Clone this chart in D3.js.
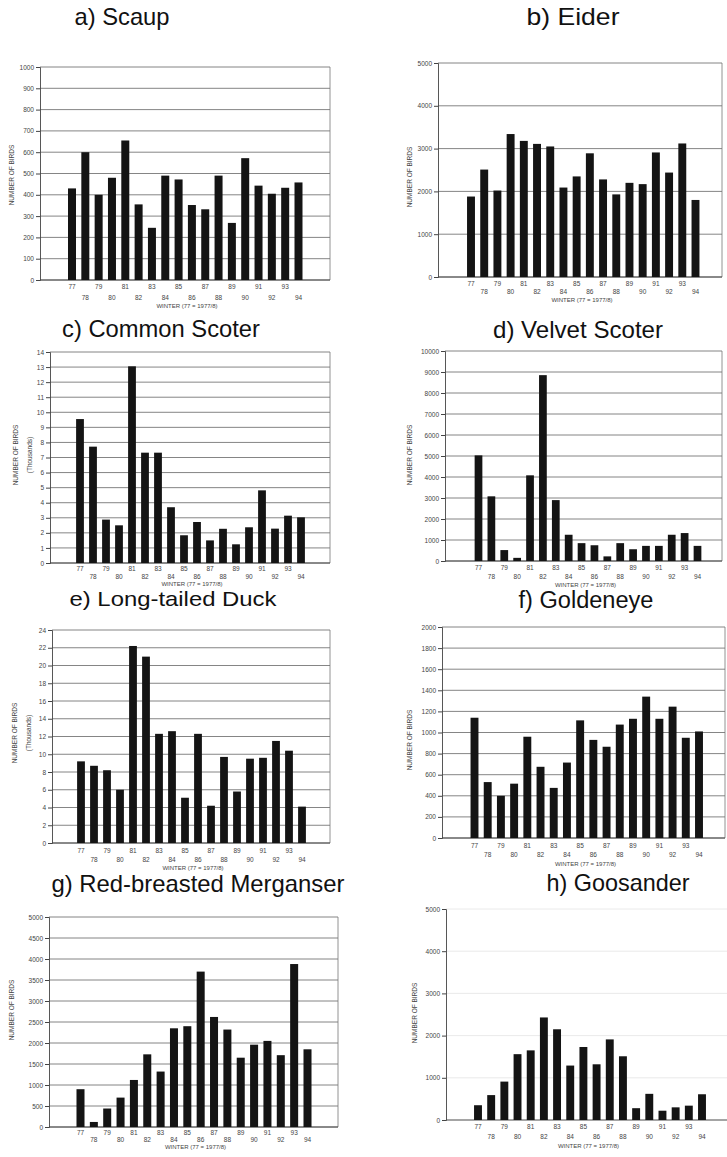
<!DOCTYPE html>
<html><head><meta charset="utf-8">
<script src="https://cdn.jsdelivr.net/npm/d3@7"></script>
<style>
body{margin:0;background:#fff;}
svg{display:block;font-family:"Liberation Sans",Arial,Helvetica,sans-serif;}
</style></head><body>
<svg id="chart" width="727" height="1157"></svg>
<script>
// ---- data ----
const years = ["77","78","79","80","81","82","83","84","85","86","87","88","89","90","91","92","93","94"];
const scaup          = [430,600,400,480,655,355,245,490,472,352,332,490,268,572,443,405,433,458];
const eider          = [1880,2510,2020,3340,3180,3110,3050,2090,2350,2890,2280,1930,2200,2170,2910,2440,3120,1800];
const commonScoter   = [9.55,7.72,2.88,2.5,13.05,7.32,7.32,3.7,1.84,2.72,1.5,2.27,1.24,2.37,4.82,2.28,3.14,3.03];
const velvetScoter   = [5030,3080,520,150,4080,8850,2900,1250,850,750,220,850,560,720,720,1250,1330,720];
const longtailedDuck = [9.2,8.7,8.2,6.0,22.2,21.0,12.3,12.6,5.1,12.3,4.2,9.7,5.8,9.5,9.6,11.5,10.4,4.1];
const goldeneye      = [1140,530,400,515,960,675,475,715,1115,930,865,1075,1130,1340,1130,1245,950,1010];
const merganser      = [900,120,440,700,1120,1730,1320,2350,2400,3700,2620,2320,1650,1960,2050,1710,3880,1850];
const goosander      = [350,590,910,1560,1650,2430,2150,1290,1730,1320,1910,1510,280,620,220,300,340,610];

const titles = ["a) Scaup","b) Eider","c) Common Scoter","d) Velvet Scoter","e) Long-tailed Duck","f) Goldeneye","g) Red-breasted Merganser","h) Goosander"];
const yMaxes = [1000,5000,14,10000,24,2000,5000,5000];
const ySteps = [100,1000,1,1000,2,200,500,1000];
const yAxisTitle = "NUMBER OF BIRDS";
const yAxisSub = "(Thousands)";
const xAxisTitle = "WINTER (77 = 1977/8)";
const series = [scaup,eider,commonScoter,velvetScoter,longtailedDuck,goldeneye,merganser,goosander];
const thousands = [false,false,true,false,true,false,false,false];

// ---- layout (positions only) ----
const layout = [
 {tx:122,ty:25, tw:95,  fs:24, L:40, R:330,T:67, B:280, c0:72,   c1:298.5, ylx:12,  yly:175, r1:287, r2:298, r3:306},
 {tx:573,ty:25, tw:93,  fs:24, L:438,R:722,T:63, B:277, c0:471,  c1:695.5, ylx:410, yly:177, r1:284, r2:292, r3:300},
 {tx:161,ty:337,tw:198, fs:24, L:50, R:330,T:352,B:563, c0:80,   c1:301,   ylx:15.5,ylx2:30,yly:455, r1:569, r2:577, r3:584},
 {tx:578,ty:338,tw:170, fs:24, L:445,R:722,T:351,B:561, c0:478.5,c1:697.5, ylx:410, yly:455, r1:568, r2:577, r3:585},
 {tx:173,ty:606,tw:207, fs:21, L:52, R:330,T:630,B:843, c0:81,   c1:302,   ylx:15,  ylx2:29,yly:733, r1:851, r2:860, r3:868},
 {tx:586,ty:608,tw:135, fs:23, L:442,R:725,T:627,B:838, c0:474.5,c1:699,   ylx:410, yly:740, r1:846, r2:855, r3:864},
 {tx:198,ty:892,tw:293, fs:24, L:49, R:338,T:917,B:1127,c0:80.5, c1:307.5, ylx:12,  yly:1010,r1:1133,r2:1140,r3:1147},
 {tx:618,ty:891,tw:143, fs:24, L:446,R:727,T:909,B:1120,c0:478,  c1:702,   ylx:415, yly:1013,r1:1127,r2:1137,r3:1146, faint:true}
];

const svg = d3.select("#chart");
const odd = years.filter((d,i)=>i%2===0);
const even = years.filter((d,i)=>i%2===1);

series.forEach((vals, k) => {
  const p = layout[k];
  const g = svg.append("g");
  const s = (p.c1 - p.c0) / (years.length - 1);
  const x = d3.scaleBand().domain(years).range([p.c0 - s/2, p.c1 + s/2]).paddingInner(0.4).paddingOuter(0.2);
  const y = d3.scaleLinear().domain([0, yMaxes[k]]).range([p.B, p.T]);
  const ticks = d3.range(0, yMaxes[k] + ySteps[k]/2, ySteps[k]);

  // title
  g.append("text").attr("x", p.tx).attr("y", p.ty).attr("text-anchor","middle")
    .attr("font-size", p.fs).attr("fill","#111")
    .attr("textLength", p.tw).attr("lengthAdjust","spacingAndGlyphs")
    .text(titles[k]);

  // gridlines
  g.append("g").selectAll("line").data(ticks).join("line")
    .attr("x1", p.L).attr("x2", p.R)
    .attr("y1", d => y(d)).attr("y2", d => y(d))
    .attr("stroke", p.faint ? "#e4e4e4" : "#666").attr("stroke-width", 0.8);

  // frame
  if (!p.faint) {
    g.append("line").attr("x1",p.R).attr("x2",p.R).attr("y1",p.T).attr("y2",p.B)
      .attr("stroke","#777").attr("stroke-width",0.8);
  }
  g.append("line").attr("x1",p.L).attr("x2",p.R).attr("y1",p.B).attr("y2",p.B)
    .attr("stroke","#444").attr("stroke-width",0.9);

  // y axis
  const ya = g.append("g").attr("transform",`translate(${p.L},0)`)
    .call(d3.axisLeft(y).tickValues(ticks).tickSize(4).tickPadding(2).tickFormat(d3.format("d")));
  ya.select(".domain").attr("stroke","#444").attr("stroke-width",0.9);
  ya.selectAll(".tick line").attr("stroke","#444");
  ya.selectAll("text").attr("font-size",6.5).attr("fill","#444").attr("font-family","Liberation Sans, Arial, sans-serif");

  // bars
  g.append("g").selectAll("rect").data(vals).join("rect")
    .attr("x", (d,i) => x(years[i]))
    .attr("width", x.bandwidth())
    .attr("y", d => y(d))
    .attr("height", d => p.B - y(d))
    .attr("fill","#141414");

  // x axis rows
  [[odd,p.r1],[even,p.r2]].forEach(([vals2, ry]) => {
    const xa = g.append("g").attr("transform",`translate(0,${ry})`)
      .call(d3.axisBottom(x).tickValues(vals2).tickSize(0).tickPadding(0));
    xa.select(".domain").remove();
    xa.selectAll("text").attr("y",0).attr("dy","0.35em").attr("font-size",6.5).attr("fill","#444")
      .attr("font-family","Liberation Sans, Arial, sans-serif");
  });
  g.append("text").attr("x",(p.L+p.R)/2 + 2).attr("y",p.r3).attr("dy","0.35em")
    .attr("text-anchor","middle").attr("font-size",6).attr("fill","#444").text(xAxisTitle);

  // y axis title
  g.append("text").attr("transform",`translate(${p.ylx},${p.yly}) rotate(-90)`)
    .attr("text-anchor","middle").attr("dy","0.35em").attr("font-size",6.5).attr("fill","#444")
    .text(yAxisTitle);
  if (thousands[k]) {
    g.append("text").attr("transform",`translate(${p.ylx2},${p.yly}) rotate(-90)`)
      .attr("text-anchor","middle").attr("dy","0.35em").attr("font-size",6.5).attr("fill","#444")
      .text(yAxisSub);
  }
});
</script>
</body></html>
